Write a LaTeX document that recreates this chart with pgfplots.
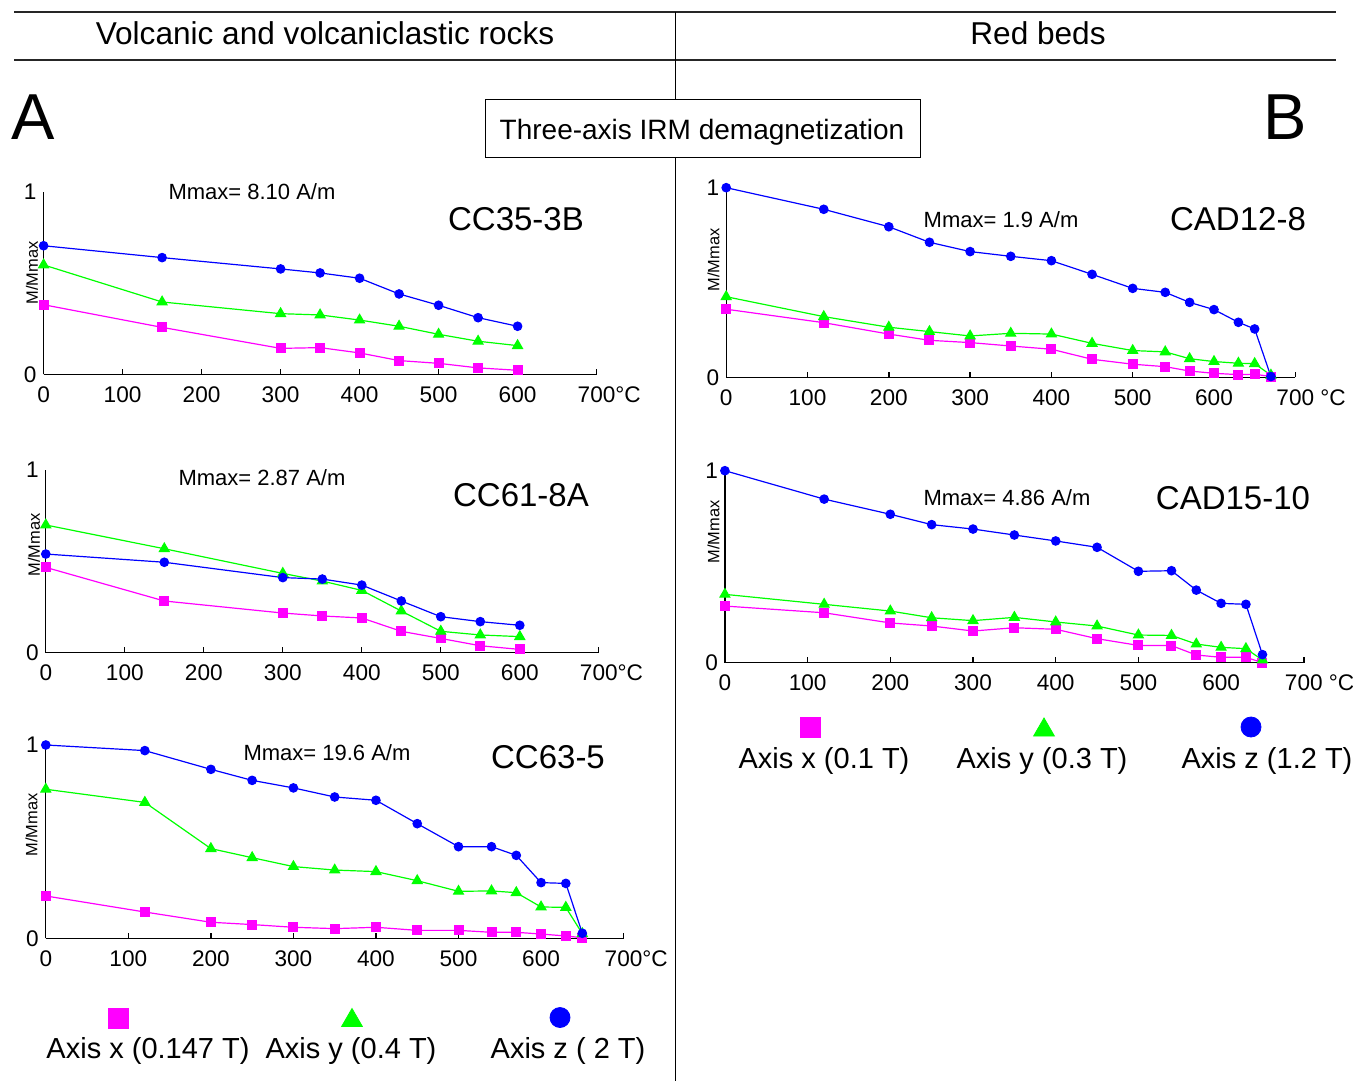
\documentclass[border=0pt]{standalone}
\usepackage{fontspec}
\setmainfont{Liberation Sans}
\usepackage{pgfplots}
\pgfplotsset{compat=1.18}

\definecolor{cx}{RGB}{255,0,255}
\definecolor{cy}{RGB}{0,255,0}
\definecolor{cz}{RGB}{0,0,255}

\newcommand\ticksize{\fontsize{11.3pt}{13pt}\selectfont}
\newcommand\mmaxsize{\fontsize{11pt}{13pt}\selectfont}
\newcommand\namesize{\fontsize{16.5pt}{19pt}\selectfont}
\newcommand\headsize{\fontsize{15.8pt}{18pt}\selectfont}
\newcommand\labsize{\fontsize{8.2pt}{10pt}\selectfont}
\newcommand\legsize{\fontsize{14.5pt}{17pt}\selectfont}

\pgfplotsset{
  panel/.style={
    scale only axis, anchor=south west, clip=false,
    axis lines=left,
    axis line style={-, line width=0.7pt, black},
    xmin=0, xmax=700, ymin=0, ymax=1,
    xtick={0,100,...,700}, ytick={0,1}, yticklabels={0,1},
    tick align=inside, major tick length=2.6pt,
    x tick style={line width=0.7pt, black},
    y tick style={draw=none},
    tick label style={font=\ticksize},
    xticklabel style={yshift=-2.5pt},
  },
  leftticks/.style={xticklabels={0,100,200,300,400,500,600,700\rlap{°C}}},
  rightticks/.style={xticklabels={0,100,200,300,400,500,600,700\rlap{ °C}}},
  xs/.style={cx, line width=0.6pt, mark=square*, mark size=2.2pt},
  ys/.style={cy, line width=0.6pt, mark=triangle*, mark size=2.8pt},
  zs/.style={cz, line width=0.6pt, mark=*, mark size=2.1pt},
}

\begin{document}
\begin{tikzpicture}
\useasboundingbox (0,0) rectangle (676.5pt,540.5pt);

% CC35-3B
\begin{axis}[panel, leftticks, at={(21.8pt,353.35pt)}, width=276.5pt, height=91.3pt]
\addplot[xs] coordinates {(0,0.381)(150,0.257)(300,0.142)(350,0.146)(400,0.117)(450,0.075)(500,0.060)(550,0.035)(600,0.022)};
\addplot[ys] coordinates {(0,0.599)(150,0.396)(300,0.332)(350,0.325)(400,0.297)(450,0.263)(500,0.219)(550,0.181)(600,0.157)};
\addplot[zs] coordinates {(0,0.704)(150,0.639)(300,0.577)(350,0.555)(400,0.526)(450,0.440)(500,0.378)(550,0.310)(600,0.263)};
\end{axis}

% CC61-8A
\begin{axis}[panel, leftticks, at={(22.9pt,214.15pt)}, width=276.5pt, height=91.35pt]
\addplot[xs] coordinates {(0,0.467)(150,0.283)(300,0.217)(350,0.201)(400,0.190)(450,0.117)(500,0.078)(550,0.038)(600,0.018)};
\addplot[ys] coordinates {(0,0.699)(150,0.569)(300,0.434)(350,0.392)(400,0.341)(450,0.228)(500,0.117)(550,0.097)(600,0.088)};
\addplot[zs] coordinates {(0,0.540)(150,0.495)(300,0.411)(350,0.403)(400,0.370)(450,0.283)(500,0.197)(550,0.170)(600,0.150)};
\end{axis}

% CC63-5
\begin{axis}[panel, leftticks, at={(22.9pt,71.35pt)}, width=288.9pt, height=96.65pt]
\addplot[xs] coordinates {(0,0.219)(120,0.136)(200,0.083)(250,0.071)(300,0.057)(350,0.050)(400,0.057)(450,0.041)(500,0.041)(540,0.031)(570,0.031)(600,0.022)(630,0.012)(650,0.003)};
\addplot[ys] coordinates {(0,0.771)(120,0.703)(200,0.464)(250,0.417)(300,0.371)(350,0.353)(400,0.345)(450,0.298)(500,0.243)(540,0.245)(570,0.236)(600,0.162)(630,0.160)(650,0.024)};
\addplot[zs] coordinates {(0,1.0)(120,0.971)(200,0.874)(250,0.817)(300,0.778)(350,0.731)(400,0.714)(450,0.593)(500,0.474)(540,0.474)(570,0.429)(600,0.288)(630,0.284)(650,0.026)};
\end{axis}

% CAD12-8
\begin{axis}[panel, rightticks, at={(363.1pt,351.85pt)}, width=284.55pt, height=94.8pt]
\addplot[xs] coordinates {(0,0.359)(120,0.288)(200,0.228)(250,0.195)(300,0.183)(350,0.165)(400,0.148)(450,0.095)(500,0.069)(540,0.056)(570,0.033)(600,0.021)(630,0.014)(650,0.016)(670,0.004)};
\addplot[ys] coordinates {(0,0.425)(120,0.320)(200,0.264)(250,0.241)(300,0.218)(350,0.232)(400,0.228)(450,0.179)(500,0.141)(540,0.134)(570,0.098)(600,0.083)(630,0.074)(650,0.072)(670,0.011)};
\addplot[zs] coordinates {(0,1.0)(120,0.886)(200,0.794)(250,0.712)(300,0.663)(350,0.638)(400,0.615)(450,0.543)(500,0.469)(540,0.448)(570,0.395)(600,0.357)(630,0.290)(650,0.255)(670,0.004)};
\end{axis}

% CAD15-10
\begin{axis}[panel, rightticks, at={(362.45pt,209.15pt)}, width=289.45pt, height=96pt]
\addplot[xs] coordinates {(0,0.295)(120,0.260)(200,0.207)(250,0.191)(300,0.165)(350,0.182)(400,0.174)(450,0.125)(500,0.090)(540,0.089)(570,0.040)(600,0.028)(630,0.028)(650,0.0)};
\addplot[ys] coordinates {(0,0.356)(120,0.304)(200,0.269)(250,0.234)(300,0.219)(350,0.236)(400,0.212)(450,0.191)(500,0.144)(540,0.142)(570,0.097)(600,0.080)(630,0.073)(650,0.014)};
\addplot[zs] coordinates {(0,1.0)(120,0.852)(200,0.773)(250,0.719)(300,0.696)(350,0.665)(400,0.634)(450,0.601)(500,0.476)(540,0.479)(570,0.378)(600,0.309)(630,0.304)(650,0.042)};
\end{axis}

% frame, titles and legends, in pixel units
\begin{axis}[at={(0pt,0pt)}, anchor=south west, scale only axis,
  width=676.5pt, height=540.5pt, xmin=0, xmax=1353, ymin=0, ymax=1081,
  y dir=reverse, hide axis, clip=false]
\draw[line width=0.7pt, black!85] (14,12) -- (1336,12);
\draw[line width=0.7pt, black!85] (14,60) -- (1336,60);
\draw[line width=0.5pt] (675,12) -- (675,100);
\draw[line width=0.5pt] (675,157) -- (675,1081);
\draw[line width=0.5pt] (485,100) rectangle (920,157);
\node[font=\fontsize{14pt}{16pt}\selectfont, anchor=base] at (702,140) {Three-axis IRM demagnetization};
\node[font=\headsize, anchor=base] at (325,45) {Volcanic and volcaniclastic rocks};
\node[font=\headsize, anchor=base] at (1038,45) {Red beds};
\node[font=\fontsize{32.5pt}{36pt}\selectfont, anchor=base] at (33.5,140) {A};
\node[font=\fontsize{32.5pt}{36pt}\selectfont, anchor=base] at (1285,140) {B};

\node[font=\namesize, anchor=base] at (516,230) {CC35-3B};
\node[font=\namesize, anchor=base] at (521,506) {CC61-8A};
\node[font=\namesize, anchor=base] at (548,768) {CC63-5};
\node[font=\namesize, anchor=base] at (1238,230) {CAD12-8};
\node[font=\namesize, anchor=base] at (1233,509) {CAD15-10};

\node[font=\mmaxsize, anchor=base] at (252,199) {Mmax= 8.10 A/m};
\node[font=\mmaxsize, anchor=base] at (262,485) {Mmax= 2.87 A/m};
\node[font=\mmaxsize, anchor=base] at (327,760) {Mmax= 19.6 A/m};
\node[font=\mmaxsize, anchor=base] at (1001,227) {Mmax= 1.9 A/m};
\node[font=\mmaxsize, anchor=base] at (1007,505) {Mmax= 4.86 A/m};

\node[font=\labsize, rotate=90] at (32,273) {M/Mmax};
\node[font=\labsize, rotate=90] at (34,545) {M/Mmax};
\node[font=\labsize, rotate=90] at (31.5,825) {M/Mmax};
\node[font=\labsize, rotate=90] at (713.5,260) {M/Mmax};
\node[font=\labsize, rotate=90] at (713.5,532) {M/Mmax};

% legend A
\addplot[only marks, cx, mark=square*, mark size=5pt] coordinates {(118,1018)};
\addplot[only marks, cy, mark=triangle*, mark size=6pt] coordinates {(352,1020.5)};
\addplot[only marks, cz, mark=*, mark size=5pt] coordinates {(560,1017.5)};
\node[font=\legsize, anchor=base] at (148,1058) {Axis x (0.147 T)};
\node[font=\legsize, anchor=base] at (351,1058) {Axis y (0.4 T)};
\node[font=\legsize, anchor=base] at (568,1058) {Axis z ( 2 T)};
% legend B
\addplot[only marks, cx, mark=square*, mark size=5pt] coordinates {(810,727)};
\addplot[only marks, cy, mark=triangle*, mark size=6pt] coordinates {(1044,730)};
\addplot[only marks, cz, mark=*, mark size=5pt] coordinates {(1251,727)};
\node[font=\legsize, anchor=base] at (824,768) {Axis x (0.1 T)};
\node[font=\legsize, anchor=base] at (1042,768) {Axis y (0.3 T)};
\node[font=\legsize, anchor=base] at (1267,768) {Axis z (1.2 T)};
\end{axis}
\end{tikzpicture}
\end{document}
